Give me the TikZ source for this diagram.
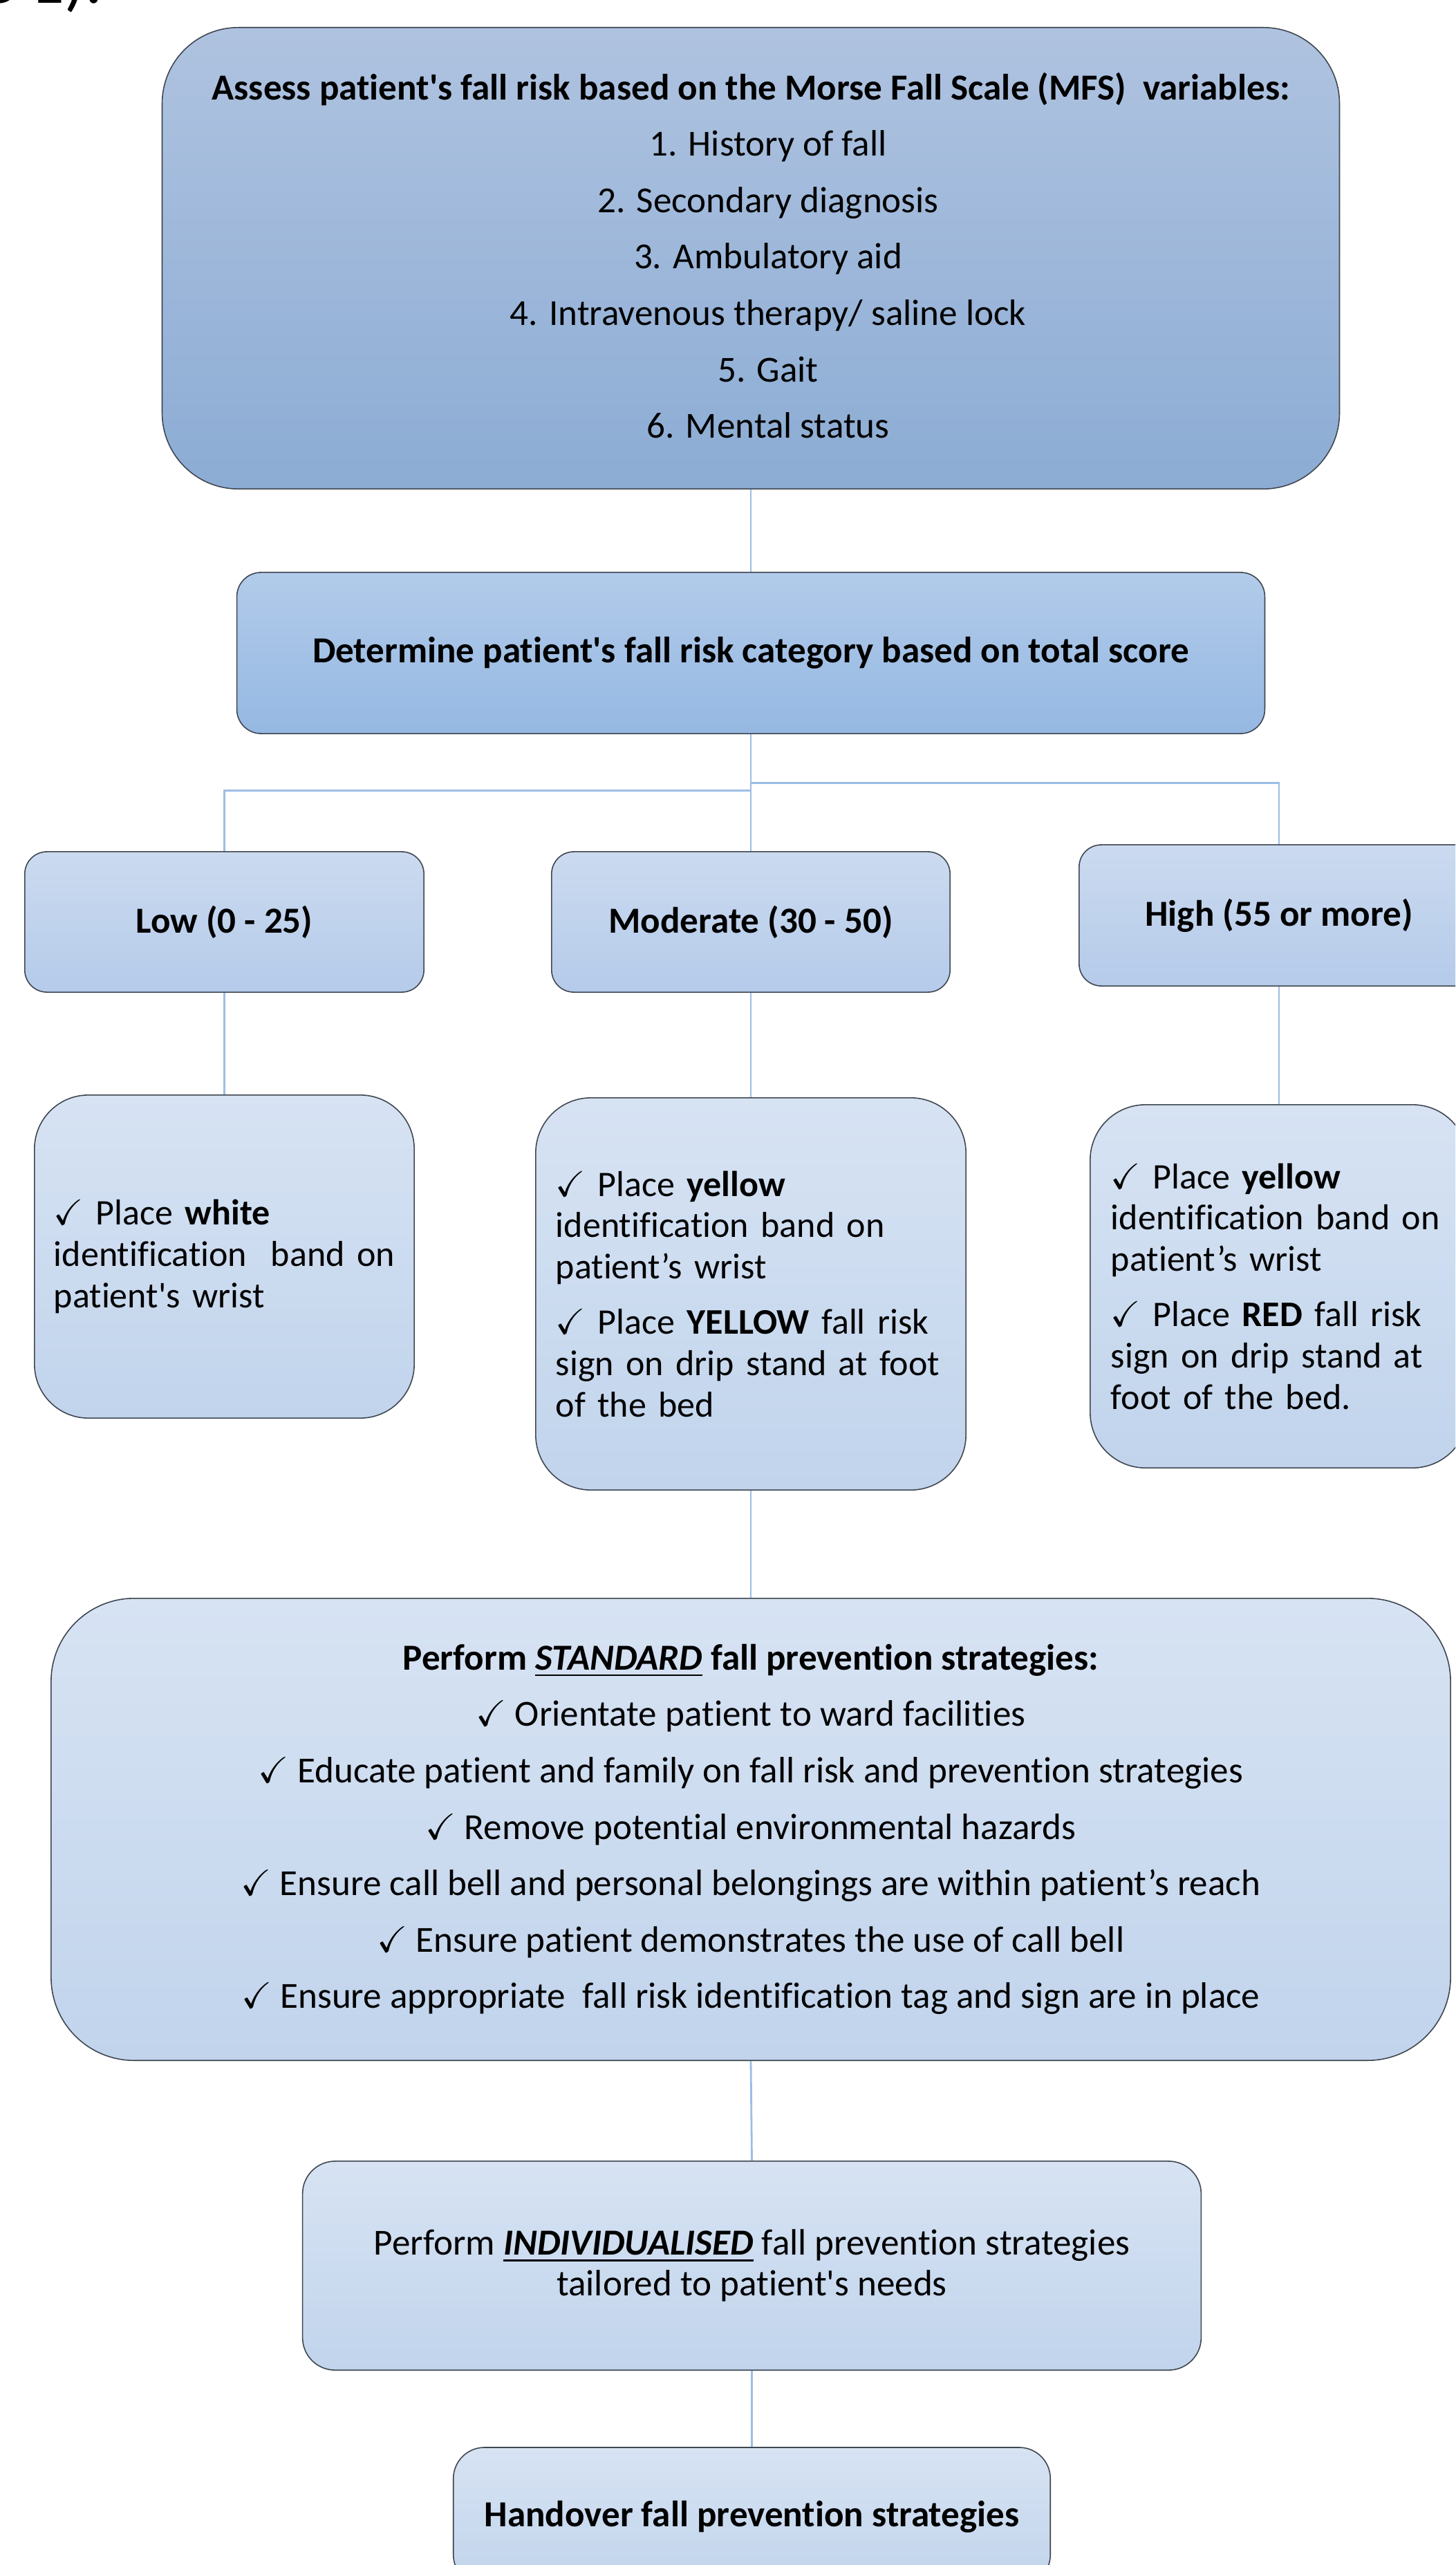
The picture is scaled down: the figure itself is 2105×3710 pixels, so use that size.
\documentclass[tikz,border=0pt]{standalone}
\usepackage{amssymb}
\usepackage{fontspec}
\newfontfamily\calfont[Ligatures=NoCommon]{Carlito}
\newcommand\ckm{$\checkmark$}
\newcommand\itm{\hspace*{0.5cm}}
\definecolor{bordc}{HTML}{3F4650}
\definecolor{linec}{HTML}{9DBDE6}
\definecolor{topT}{HTML}{AFC3E0}
\definecolor{topB}{HTML}{8CACD4}
\definecolor{detT}{HTML}{B2CBEA}
\definecolor{detB}{HTML}{95B8E2}
\definecolor{catT}{HTML}{CBDAEF}
\definecolor{catB}{HTML}{B5CBEA}
\definecolor{lgtT}{HTML}{D7E3F3}
\definecolor{lgtB}{HTML}{C1D4EC}
\begin{document}
\begin{tikzpicture}[x=0.01cm,y=-0.01cm,
  box/.style={draw=bordc, line width=0.45pt, align=center, inner sep=0pt,
    font=\calfont\fontsize{15.1}{17}\selectfont},
  detail/.style={box, align=left, font=\calfont\fontsize{14.8}{17}\selectfont},
  conn/.style={draw=linec, line width=0.8pt}]
\useasboundingbox (0,0) rectangle (2105,3710);
\clip (0,0) rectangle (2105,3710);
\fill[white] (0,0) rectangle (2105,3710);

\node[anchor=base west, inner sep=0pt, font=\calfont\fontsize{28}{30}\selectfont] (prev) at (-28,5) {e 1).};

\node[box, top color=topT, bottom color=topB, minimum width=17.02cm, minimum height=6.67cm,
  rounded corners=1.1cm, font=\calfont\fontsize{15.1}{23.2}\selectfont] (mfs) at (1086,373.5)
  {\textbf{Assess patient's fall risk based on the Morse Fall Scale (MFS)\ \ variables:}\\
   \itm 1. History of fall\\\itm 2. Secondary diagnosis\\\itm 3. Ambulatory aid\\
   \itm 4. Intravenous therapy/ saline lock\\\itm 5. Gait\\\itm 6. Mental status\vphantom{p}};

\node[box, top color=detT, bottom color=detB, minimum width=14.86cm, minimum height=2.33cm,
  rounded corners=0.35cm] (det) at (1086,944.5)
  {\textbf{Determine patient's fall risk category based on total score}};

\node[box, top color=catT, bottom color=catB, minimum width=5.77cm, minimum height=2.03cm,
  rounded corners=0.32cm] (low) at (324.5,1333.5) {\textbf{Low (0 - 25)}};
\node[box, top color=catT, bottom color=catB, minimum width=5.76cm, minimum height=2.03cm,
  rounded corners=0.32cm] (mod) at (1086,1333.5) {\textbf{Moderate (30 - 50)}};
\node[box, top color=catT, bottom color=catB, minimum width=5.78cm, minimum height=2.04cm,
  rounded corners=0.32cm] (high) at (1850,1324) {\textbf{High (55 or more)}};

\node[detail, top color=lgtT, bottom color=lgtB, minimum width=5.49cm, minimum height=4.67cm,
  rounded corners=0.78cm, text width=4.93cm] (lowd) at (324.5,1817.5)
  {\ckm{} Place \textbf{white}\\identification\ \ band on\\patient's wrist};
\node[detail, top color=lgtT, bottom color=lgtB, minimum width=6.22cm, minimum height=5.67cm,
  rounded corners=0.8cm, text width=5.64cm] (modd) at (1086,1871.5)
  {\ckm{} Place \textbf{yellow}\\identification band on\\patient’s wrist\\[5.7pt]
   \ckm{} Place \textbf{YELLOW} fall risk\\sign on drip stand at foot\\of the bed};
\node[detail, top color=lgtT, bottom color=lgtB, minimum width=5.46cm, minimum height=5.25cm,
  rounded corners=0.8cm, text width=4.86cm] (highd) at (1850,1860.5)
  {\ckm{} Place \textbf{yellow}\\identification band on\\patient’s wrist\\[5.7pt]
   \ckm{} Place \textbf{RED} fall risk\\sign on drip stand at\\foot of the bed.};

\node[box, top color=lgtT, bottom color=lgtB, minimum width=20.23cm, minimum height=6.68cm,
  rounded corners=1.2cm, font=\calfont\fontsize{15.1}{23.2}\selectfont] (std) at (1086,2646)
  {\textbf{Perform \underline{\textit{STANDARD}} fall prevention strategies:}\\
   \ckm{} Orientate patient to ward facilities\\
   \ckm{} Educate patient and family on fall risk and prevention strategies\\
   \ckm{} Remove potential environmental hazards\\
   \ckm{} Ensure call bell and personal belongings are within patient’s reach\\
   \ckm{} Ensure patient demonstrates the use of call bell\\
   \ckm{} Ensure appropriate\ \ fall risk identification tag and sign are in place};

\node[box, top color=lgtT, bottom color=lgtB, minimum width=12.99cm, minimum height=3.02cm,
  rounded corners=0.47cm, font=\calfont\fontsize{15.1}{16.8}\selectfont] (ind) at (1087.5,3277)
  {Perform \underline{\textbf{\textit{INDIVIDUALISED}}} fall prevention strategies\\
   tailored to patient's needs};

\node[box, top color=lgtT, bottom color=lgtB, minimum width=8.63cm, minimum height=2.0cm,
  rounded corners=0.45cm] (hand) at (1087.5,3640)
  {\textbf{Handover fall prevention strategies}};

\draw[conn] (mfs.south) -- (det.north);
\draw[conn] (det.south) -- ++(0,82) -| (low.north);
\draw[conn] (det.south) -- (mod.north);
\draw[conn] (det.south) -- ++(0,71) -| (high.north);
\draw[conn] (low.south) -- (lowd.north);
\draw[conn] (mod.south) -- (modd.north);
\draw[conn] (high.south) -- (highd.north);
\draw[conn] (modd.south) -- (std.north);
\draw[conn] (std.south) -- (ind.north);
\draw[conn] (ind.south) -- (hand.north);
\end{tikzpicture}
\end{document}
